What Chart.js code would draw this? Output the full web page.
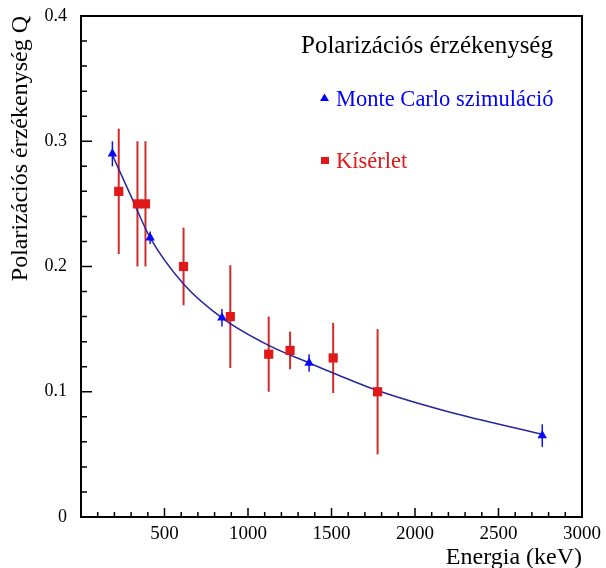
<!DOCTYPE html>
<html>
<head>
<meta charset="utf-8">
<script src="https://cdn.jsdelivr.net/npm/chart.js@4/dist/chart.umd.min.js"></script>
<style>
  html, body { margin: 0; padding: 0; background: #fff; }
</style>
</head>
<body>
<canvas id="polChart" width="606" height="568"></canvas>
<script>
// Monte Carlo simulation points
const mcEnergy = [188, 414, 844, 1366, 2762];
const mcQ      = [0.290, 0.223, 0.159, 0.123, 0.065];
const mcErr    = [0.010, 0.005, 0.007, 0.007, 0.009];

// measured points
const expEnergy = [226, 338, 386, 614, 894, 1124, 1252, 1510, 1776];
const expQ      = [0.260, 0.250, 0.250, 0.200, 0.160, 0.130, 0.133, 0.127, 0.100];
const expErr    = [0.050, 0.050, 0.050, 0.031, 0.041, 0.030, 0.015, 0.028, 0.050];

// fitted curve
const fitEnergy = [188, 300, 414, 614, 844, 1124, 1366, 1510, 1776, 2200, 2762];
const fitQ      = [0.289, 0.256, 0.223, 0.186, 0.159, 0.137, 0.123, 0.115, 0.101, 0.084, 0.066];

const xTicks = [500, 1000, 1500, 2000, 2500, 3000];
const yTicks = [0, 0.1, 0.2, 0.3, 0.4];

const serif = '"Liberation Serif", "Times New Roman", serif';

function toPoints(xs, ys) {
    return xs.map((x, i) => ({ x: x, y: ys[i] }));
}

// error bars, ticks, frame, titles and legend
const decorations = {
    id: 'decorations',
    beforeDatasetsDraw(chart) {
        const ctx = chart.ctx;
        const xs = chart.scales.x, ys = chart.scales.y;
        const bars = [
            { e: expEnergy, q: expQ, err: expErr, color: '#d42a2a', w: 2 },
            { e: mcEnergy, q: mcQ, err: mcErr, color: '#1010f0', w: 1.5 }
        ];
        ctx.save();
        bars.forEach(b => {
            ctx.strokeStyle = b.color;
            ctx.lineWidth = b.w;
            b.e.forEach((e, i) => {
                const px = xs.getPixelForValue(e);
                ctx.beginPath();
                ctx.moveTo(px, ys.getPixelForValue(b.q[i] - b.err[i]));
                ctx.lineTo(px, ys.getPixelForValue(b.q[i] + b.err[i]));
                ctx.stroke();
            });
        });
        ctx.restore();
    },
    afterDraw(chart) {
        const ctx = chart.ctx;
        const a = chart.chartArea;
        const xs = chart.scales.x, ys = chart.scales.y;
        ctx.save();

        // frame
        ctx.strokeStyle = '#000';
        ctx.lineWidth = 2;
        ctx.strokeRect(a.left, a.top, a.right - a.left, a.bottom - a.top);

        // inside ticks
        ctx.lineWidth = 1.5;
        ctx.beginPath();
        for (let i = 0; i <= 20; i++) {
            const py = ys.getPixelForValue(i * 0.02);
            ctx.moveTo(a.left, py);
            ctx.lineTo(a.left + (i % 5 === 0 ? 11 : 6), py);
        }
        for (let i = 0; i <= 30; i++) {
            const px = xs.getPixelForValue(i * 100);
            ctx.moveTo(px, a.bottom);
            ctx.lineTo(px, a.bottom - (i % 5 === 0 ? 9 : 5));
        }
        ctx.stroke();

        // axis titles
        ctx.fillStyle = '#000';
        ctx.font = '24px ' + serif;
        ctx.textAlign = 'right';
        ctx.textBaseline = 'alphabetic';
        ctx.fillText('Energia (keV)', 582, 564);
        ctx.save();
        ctx.translate(27, 16);
        ctx.rotate(-Math.PI / 2);
        ctx.textAlign = 'right';
        ctx.fillText('Polarizációs érzékenység Q', 0, 0);
        ctx.restore();

        // legend box
        ctx.textAlign = 'left';
        ctx.font = '25px ' + serif;
        ctx.fillText('Polarizációs érzékenység', 301, 53);

        ctx.font = '22.5px ' + serif;
        ctx.fillStyle = '#0000ff';
        ctx.beginPath();
        ctx.moveTo(324.5, 93.5);
        ctx.lineTo(329, 101);
        ctx.lineTo(320, 101);
        ctx.closePath();
        ctx.fill();
        ctx.fillText('Monte Carlo szimuláció', 336, 106);

        ctx.fillStyle = '#e01818';
        ctx.fillRect(321, 157, 8, 7);
        ctx.fillText('Kísérlet', 336, 168);

        ctx.restore();
    }
};

const chart = new Chart(document.getElementById('polChart').getContext('2d'), {
    type: 'scatter',
    data: {
        datasets: [
            {
                label: 'fit',
                data: toPoints(fitEnergy, fitQ),
                showLine: true,
                borderColor: '#2626a0',
                borderWidth: 1.5,
                pointRadius: 0,
                cubicInterpolationMode: 'monotone',
                order: 3
            },
            {
                label: 'Kísérlet',
                data: toPoints(expEnergy, expQ),
                pointStyle: 'rect',
                pointRadius: 6.5,
                backgroundColor: '#e01818',
                borderColor: '#e01818',
                borderWidth: 0,
                order: 2
            },
            {
                label: 'Monte Carlo szimuláció',
                data: toPoints(mcEnergy, mcQ),
                pointStyle: 'triangle',
                pointRadius: 5.5,
                backgroundColor: '#0a0af5',
                borderColor: '#0a0af5',
                borderWidth: 0,
                order: 1
            }
        ]
    },
    options: {
        responsive: false,
        animation: false,
        layout: { padding: { top: 16, right: 24, left: 0, bottom: 0 } },
        plugins: {
            legend: { display: false },
            tooltip: { enabled: false }
        },
        scales: {
            x: {
                type: 'linear',
                min: 0,
                max: 3000,
                afterFit(scale) {
                    scale.height = 51;
                    scale.paddingLeft = 0;
                    scale.paddingRight = 0;
                },
                afterBuildTicks(scale) { scale.ticks = xTicks.map(v => ({ value: v })); },
                grid: { display: false, drawTicks: false },
                border: { display: false },
                ticks: {
                    color: '#000',
                    padding: 6,
                    maxRotation: 0,
                    font: { family: serif, size: 19 },
                    callback: v => String(v)
                }
            },
            y: {
                type: 'linear',
                min: 0,
                max: 0.4,
                afterFit(scale) {
                    scale.width = 81;
                    scale.paddingTop = 0;
                    scale.paddingBottom = 0;
                },
                afterBuildTicks(scale) { scale.ticks = yTicks.map(v => ({ value: v })); },
                grid: { display: false, drawTicks: false },
                border: { display: false },
                ticks: {
                    color: '#000',
                    padding: 14,
                    font: { family: serif, size: 18 },
                    callback: v => v === 0 ? '0' : v.toFixed(1)
                }
            }
        }
    },
    plugins: [decorations]
});
</script>
</body>
</html>
